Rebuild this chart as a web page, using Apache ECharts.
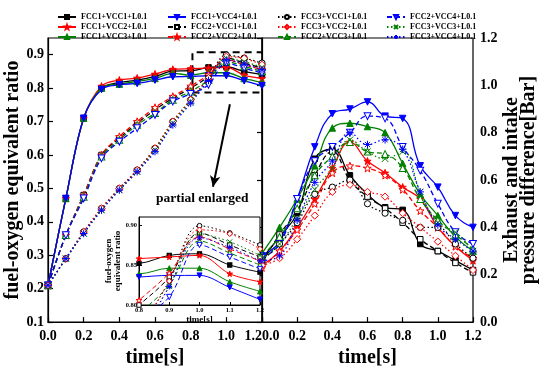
<!DOCTYPE html>
<html><head><meta charset="utf-8">
<script src="https://cdn.jsdelivr.net/npm/echarts@6/dist/echarts.min.js"></script>
<style>html,body{margin:0;padding:0;background:#fff}#c{width:550px;height:373px}</style>
</head><body><div id="c"></div>
<script>
// ---------- DATA ----------
const times = [0,0.1,0.2,0.3,0.4,0.5,0.6,0.7,0.8,0.9,1.0,1.1,1.2];
const names = ['FCC1+VCC1+L0.1','FCC1+VCC2+L0.1','FCC1+VCC3+L0.1','FCC1+VCC4+L0.1',
               'FCC2+VCC1+L0.1','FCC2+VCC2+L0.1','FCC2+VCC3+L0.1','FCC2+VCC4+L0.1',
               'FCC3+VCC1+L0.1','FCC3+VCC2+L0.1','FCC3+VCC3+L0.1','FCC3+VCC4+L0.1'];
const legendCols = [
  ['FCC1+VCC1+L0.1','FCC1+VCC2+L0.1','FCC1+VCC3+L0.1'],
  ['FCC1+VCC4+L0.1','FCC2+VCC1+L0.1','FCC2+VCC2+L0.1'],
  ['FCC3+VCC1+L0.1','FCC3+VCC2+L0.1','FCC2+VCC3+L0.1'],
  ['FCC2+VCC4+L0.1','FCC3+VCC3+L0.1','FCC3+VCC4+L0.1']
];
// fuel-oxygen equivalent ratio (left panel)
const phi_F1V1 = [0.21,0.47,0.71,0.800,0.817,0.824,0.835,0.851,0.852,0.862,0.864,0.850,0.841];
const phi_F1V2 = [0.21,0.47,0.71,0.806,0.824,0.830,0.842,0.856,0.858,0.860,0.862,0.839,0.829];
const phi_F1V3 = [0.21,0.47,0.71,0.800,0.812,0.820,0.829,0.844,0.839,0.846,0.846,0.829,0.817];
const phi_F1V4 = [0.21,0.47,0.71,0.796,0.810,0.814,0.824,0.834,0.835,0.837,0.837,0.822,0.807];
const phi_F2V1 = [0.21,0.36,0.48,0.600,0.650,0.695,0.735,0.770,0.800,0.835,0.890,0.875,0.860];
const phi_F2V2 = [0.21,0.36,0.48,0.600,0.655,0.700,0.742,0.775,0.806,0.840,0.885,0.870,0.855];
const phi_F2V3 = [0.21,0.36,0.475,0.595,0.645,0.690,0.725,0.765,0.790,0.825,0.880,0.865,0.850];
const phi_F2V4 = [0.21,0.36,0.47,0.590,0.640,0.680,0.720,0.760,0.783,0.810,0.875,0.860,0.845];
const phi_F3V1 = [0.21,0.29,0.37,0.440,0.500,0.555,0.620,0.700,0.765,0.830,0.899,0.890,0.875];
const phi_F3V2 = [0.21,0.29,0.37,0.440,0.500,0.555,0.620,0.700,0.765,0.830,0.894,0.889,0.870];
const phi_F3V3 = [0.21,0.29,0.365,0.435,0.495,0.550,0.615,0.695,0.760,0.823,0.889,0.879,0.862];
const phi_F3V4 = [0.21,0.29,0.365,0.435,0.495,0.550,0.610,0.690,0.755,0.823,0.884,0.872,0.855];
// exhaust and intake pressure difference [Bar] (right panel)
const dp_F1V1 = [0.27,0.36,0.46,0.69,0.73,0.62,0.54,0.485,0.474,0.33,0.30,0.26,0.22];
const dp_F1V2 = [0.24,0.30,0.40,0.52,0.65,0.76,0.68,0.63,0.57,0.52,0.40,0.32,0.26];
const dp_F1V3 = [0.29,0.40,0.52,0.66,0.82,0.84,0.826,0.80,0.67,0.54,0.45,0.36,0.30];
const dp_F1V4 = [0.28,0.34,0.52,0.74,0.88,0.90,0.93,0.87,0.86,0.66,0.57,0.45,0.40];
const dp_F2V1 = [0.25,0.37,0.47,0.62,0.72,0.60,0.53,0.48,0.42,0.35,0.30,0.25,0.21];
const dp_F2V2 = [0.23,0.30,0.39,0.50,0.63,0.66,0.65,0.62,0.56,0.47,0.40,0.32,0.27];
const dp_F2V3 = [0.28,0.36,0.48,0.62,0.70,0.76,0.72,0.71,0.65,0.52,0.43,0.37,0.31];
const dp_F2V4 = [0.27,0.33,0.52,0.68,0.74,0.80,0.87,0.86,0.74,0.64,0.50,0.38,0.33];
const dp_F3V1 = [0.26,0.33,0.42,0.54,0.57,0.60,0.50,0.46,0.43,0.40,0.40,0.33,0.27];
const dp_F3V2 = [0.24,0.27,0.35,0.45,0.55,0.58,0.55,0.53,0.46,0.40,0.34,0.28,0.22];
const dp_F3V3 = [0.27,0.33,0.44,0.56,0.65,0.77,0.72,0.69,0.72,0.55,0.42,0.38,0.30];
const dp_F3V4 = [0.26,0.28,0.43,0.59,0.68,0.80,0.75,0.77,0.73,0.55,0.41,0.35,0.30];
const phiSets = [phi_F1V1,phi_F1V2,phi_F1V3,phi_F1V4,phi_F2V1,phi_F2V2,phi_F2V3,phi_F2V4,phi_F3V1,phi_F3V2,phi_F3V3,phi_F3V4];
const dpSets  = [dp_F1V1,dp_F1V2,dp_F1V3,dp_F1V4,dp_F2V1,dp_F2V2,dp_F2V3,dp_F2V4,dp_F3V1,dp_F3V2,dp_F3V3,dp_F3V4];
// zoom-box annotation (data coords) and arrow
const zoomBoxT = [0.81, 1.2];
const zoomBoxV = [0.787, 0.907];
const arrowFrom = [1.02, 0.752];
const arrowTo = [0.925, 0.505];

// ---------- STYLE ----------
const SERIF = 'Liberation Serif';
const RED='#ff0000', GRN='#008000', BLU='#0000ff', BLK='#000000';
const STAR='path://M10,0L12.35,6.76L19.51,6.91L13.8,11.24L15.88,18.09L10,14L4.12,18.09L6.2,11.24L0.49,6.91L7.65,6.76Z';
const XMARK='path://M0,0L10,10M10,0L0,10';
const AST='path://M5,0L5,10M0,5L10,5M1.5,1.5L8.5,8.5M8.5,1.5L1.5,8.5';
const DASH=[5,3], DOT=[1.5,2.5];
const sty = [
  {c:BLK,t:'solid',s:'rect',f:true,k:0.85},
  {c:RED,t:'solid',s:STAR,f:true,k:1.1},
  {c:GRN,t:'solid',s:'triangle',f:true,k:1},
  {c:BLU,t:'solid',s:'triangle',r:180,f:true,k:1},
  {c:BLK,t:DASH,s:'rect',f:false,k:0.85},
  {c:RED,t:DASH,s:STAR,f:false,k:1.15},
  {c:GRN,t:DASH,s:'triangle',f:false,k:1.05},
  {c:BLU,t:DASH,s:'triangle',r:180,f:false,k:1.05},
  {c:BLK,t:DOT,s:'circle',f:false,k:0.95},
  {c:RED,t:DOT,s:'diamond',f:false,k:1.1},
  {c:GRN,t:DOT,s:XMARK,f:false,k:1},
  {c:BLU,t:DOT,s:AST,f:false,k:1.15}
];

function mk(i, data, xi, yi, size, lw, z, sm) {
  const st = sty[i];
  return {
    type:'line', name:names[i], xAxisIndex:xi, yAxisIndex:yi,
    data: times.map((t,k)=>[t,data[k]]),
    smooth:sm, symbol:st.s, symbolRotate:st.r||0, symbolSize:Math.round(size*st.k*10)/10,
    showAllSymbol:true, clip:true,
    lineStyle:{color:st.c, width:lw, type:st.t},
    itemStyle:{color: st.f ? st.c : '#fff', borderColor:st.c, borderWidth:1},
    emphasis:{disabled:true}, animation:false, z:z
  };
}

const series = [];
for (let i=0;i<12;i++) series.push(mk(i, phiSets[i], 0, 0, 6.5, 1.3, 3, 0.35));
for (let i=0;i<12;i++) series.push(mk(i, dpSets[i], 1, 1, 6.5, 1.3, 3, 0.45));
for (let i=0;i<12;i++) series.push(mk(i, phiSets[i], 2, 2, 5, 1, 6, 0.35));

series[0].markArea = {silent:true, itemStyle:{color:'rgba(0,0,0,0)', borderColor:'#000', borderWidth:2, borderType:[7,5]},
  data:[[{coord:[zoomBoxT[0],zoomBoxV[0]]},{coord:[zoomBoxT[1],zoomBoxV[1]]}]]};
series[0].markLine = {silent:true, symbol:['none','arrow'], symbolSize:[8,11], animation:false,
  lineStyle:{color:'#000', width:2, type:'solid'}, label:{show:false},
  data:[[{coord:arrowFrom},{coord:arrowTo}]]};

const labelStyle = {fontFamily:SERIF, fontWeight:'bold', fontSize:14, color:'#000'};
const axLine = {show:true, lineStyle:{color:'#000', width:1.2}};
function xAx(gi, extra) {
  return Object.assign({
    type:'value', gridIndex:gi, min:0, max:1.2, interval:0.2,
    axisLine:axLine, axisTick:{show:true, inside:true, length:5, lineStyle:{color:'#000',width:1.2}},
    splitLine:{show:false},
    axisLabel:Object.assign({margin:7, formatter:v=>v.toFixed(1)}, labelStyle),
    name:'time[s]', nameLocation:'middle', nameGap:19,
    nameTextStyle:{fontFamily:SERIF, fontWeight:'bold', fontSize:20, color:'#000'}
  }, extra);
}

const option = {
  backgroundColor:'#fff',
  animation:false,
  legend: legendCols.map((d,i)=>({
    data:d, orient:'vertical', left:[52,162,272,381][i], top:7,
    itemWidth:18, itemHeight:5, itemGap:0, selectedMode:false,
    textStyle:{fontFamily:SERIF, fontWeight:'bold', fontSize:8, color:'#000', lineHeight:10}
  })),
  grid:[
    {left:48, top:38, width:214, height:290, show:true, borderColor:'#000', borderWidth:1.2},
    {left:262, top:38, width:211, height:290, show:true, borderColor:'#000', borderWidth:1.2},
    {left:139, top:217, width:121, height:88, show:true, backgroundColor:'#fff', borderColor:'#000', borderWidth:1, z:5}
  ],
  xAxis:[
    xAx(0, {axisLabel:Object.assign({margin:7, formatter:v=>v.toFixed(1), alignMaxLabel:'right'}, labelStyle)}),
    xAx(1, {axisLabel:Object.assign({margin:7, formatter:v=>v.toFixed(1), alignMinLabel:'left'}, labelStyle)}),
    {type:'value', gridIndex:2, min:0.8, max:1.2, interval:0.1, z:6,
     axisLine:{show:true, lineStyle:{color:'#000', width:1}},
     axisTick:{show:true, inside:true, length:3, lineStyle:{color:'#000'}},
     splitLine:{show:false},
     axisLabel:{fontFamily:SERIF, fontWeight:'bold', fontSize:6.5, color:'#000', margin:2, formatter:v=>v.toFixed(1)},
     name:'time[s]', nameLocation:'middle', nameGap:7,
     nameTextStyle:{fontFamily:SERIF, fontWeight:'bold', fontSize:9, color:'#000'}}
  ],
  yAxis:[
    {type:'value', gridIndex:0, min:0.1, max:0.95, interval:0.1,
     axisLine:axLine, axisTick:{show:true, inside:true, length:5, lineStyle:{color:'#000',width:1.2}},
     splitLine:{show:false},
     axisLabel:Object.assign({margin:4, showMaxLabel:false, formatter:v=>v.toFixed(1)}, labelStyle),
     name:'fuel-oxygen equivalent ratio', nameLocation:'middle', nameGap:20,
     nameTextStyle:{fontFamily:SERIF, fontWeight:'bold', fontSize:20, color:'#000'}},
    {type:'value', gridIndex:1, position:'right', min:0, max:1.2, interval:0.2,
     axisLine:axLine, axisTick:{show:true, inside:true, length:5, lineStyle:{color:'#000',width:1.2}},
     splitLine:{show:false},
     axisLabel:Object.assign({margin:7, formatter:v=>v.toFixed(1)}, labelStyle),
     name:'Exhaust and intake\npressure difference[Bar]', nameLocation:'middle', nameGap:29,
     nameTextStyle:{fontFamily:SERIF, fontWeight:'bold', fontSize:20, color:'#000', lineHeight:17}},
    {type:'value', gridIndex:2, min:0.8, max:0.91, interval:0.05, z:6,
     axisLine:{show:true, lineStyle:{color:'#000', width:1}},
     axisTick:{show:true, inside:true, length:3, lineStyle:{color:'#000'}},
     splitLine:{show:false},
     axisLabel:{fontFamily:SERIF, fontWeight:'bold', fontSize:6.5, color:'#000', margin:2, showMaxLabel:false, formatter:v=>v.toFixed(2)},
     name:'fuel-oxygen\nequivalent ratio', nameLocation:'middle', nameGap:17,
     nameTextStyle:{fontFamily:SERIF, fontWeight:'bold', fontSize:9, color:'#000', lineHeight:9}}
  ],
  graphic:[
    {type:'text', left:156, top:192, z:10,
     style:{text:'partial enlarged', font:'bold 13.5px "Liberation Serif"', fill:'#000'}}
  ],
  series: series
};
const chart = echarts.init(document.getElementById('c'), null, {renderer:'canvas'});
chart.setOption(option);
</script>
</body></html>
